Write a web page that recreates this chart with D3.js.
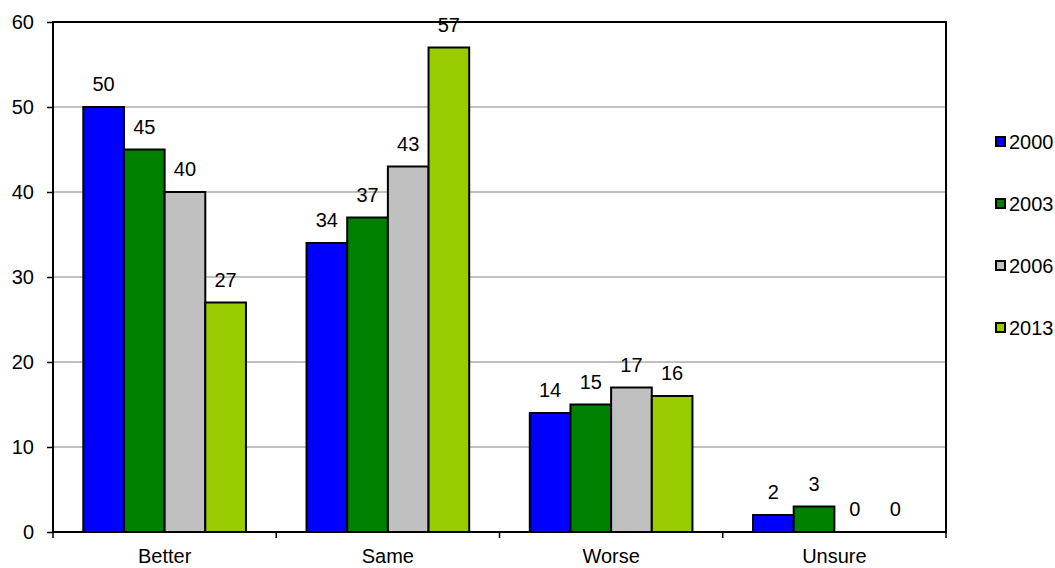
<!DOCTYPE html>
<html>
<head>
<meta charset="utf-8">
<script src="https://d3js.org/d3.v7.min.js"></script>
<style>
body { margin: 0; background: #fff; }
svg { display: block; }
</style>
</head>
<body>
<div></div>
<script>
const width = 1055, height = 568

// data
const categories = ["Better", "Same", "Worse", "Unsure"]
const years = ["2000", "2003", "2006", "2013"]
const v2000 = [50, 34, 14, 2]
const v2003 = [45, 37, 15, 3]
const v2006 = [40, 43, 17, 0]
const v2013 = [27, 57, 16, 0]
const yTicks = [0, 10, 20, 30, 40, 50, 60]
const colors = ["#0000FF", "#008000", "#C0C0C0", "#99CC00"]

const series = [v2000, v2003, v2006, v2013]
const rows = []
categories.forEach((c, i) => {
	years.forEach((yr, j) => rows.push({cat: c, year: yr, value: series[j][i], color: colors[j]}))
})

const font = "'Liberation Sans', Arial, sans-serif"
const fs = 20

const svg = d3.select("div")
	.append("svg")
	.attr("xmlns", "http://www.w3.org/2000/svg")
	.attr("width", width)
	.attr("height", height)

// plot area
const pLeft = 53, pRight = 946, pTop = 22, pBottom = 532
const x = d3.scaleBand().domain(categories).range([pLeft, pRight])
const xInner = d3.scaleBand().domain(years).range([0, x.bandwidth()]).paddingOuter(0.745).paddingInner(0)
const y = d3.scaleLinear().domain([0, 60]).range([pBottom, pTop])

// gridlines
svg.selectAll().data(yTicks.filter(d => d > 0 && d < 60)).enter().append("line")
	.attr("x1", pLeft).attr("x2", pRight)
	.attr("y1", d => y(d)).attr("y2", d => y(d))
	.attr("stroke", "#c0c0c0")
	.attr("stroke-width", 2)

// bars
svg.selectAll().data(rows).enter().append("rect")
	.attr("x", d => x(d.cat) + xInner(d.year))
	.attr("y", d => y(d.value))
	.attr("width", xInner.bandwidth())
	.attr("height", d => y(0) - y(d.value))
	.attr("fill", d => d.color)
	.attr("stroke", "#000")
	.attr("stroke-width", d => d.value > 0 ? 2 : 0)

// plot border
svg.append("rect")
	.attr("x", pLeft).attr("y", pTop)
	.attr("width", pRight - pLeft).attr("height", pBottom - pTop)
	.attr("fill", "none")
	.attr("stroke", "#000")
	.attr("stroke-width", 2)

// value labels
svg.selectAll().data(rows).enter().append("text")
	.attr("x", d => x(d.cat) + xInner(d.year) + xInner.bandwidth() / 2)
	.attr("y", d => y(d.value) - 16)
	.attr("text-anchor", "middle")
	.attr("font-family", font)
	.attr("font-size", fs)
	.attr("fill", "#000")
	.text(d => d.value)

// y axis
const yAxis = svg.append("g")
	.attr("transform", `translate(${pLeft},0)`)
	.call(d3.axisLeft(y).tickValues(yTicks).tickSize(6).tickPadding(13))
yAxis.select(".domain").remove()
yAxis.selectAll(".tick line").attr("stroke", "#000").attr("stroke-width", 1.5)
yAxis.selectAll(".tick text").attr("font-family", font).attr("font-size", fs).attr("fill", "#000")

// x axis: ticks at category boundaries
const bounds = categories.map(c => x(c)).concat([pRight])
svg.selectAll().data(bounds).enter().append("line")
	.attr("x1", d => d).attr("x2", d => d)
	.attr("y1", pBottom).attr("y2", pBottom + 6)
	.attr("stroke", "#000")
	.attr("stroke-width", 1.5)
svg.selectAll().data(categories).enter().append("text")
	.attr("x", d => x(d) + x.bandwidth() / 2)
	.attr("y", 563)
	.attr("text-anchor", "middle")
	.attr("font-family", font)
	.attr("font-size", fs)
	.attr("fill", "#000")
	.text(d => d)

// legend
const ly = d3.scalePoint().domain(years).range([142, 328])
const legend = svg.selectAll().data(years).enter().append("g")
	.attr("transform", d => `translate(996,${ly(d)})`)
legend.append("rect")
	.attr("x", 0).attr("y", -5)
	.attr("width", 9).attr("height", 9)
	.attr("fill", (d, i) => colors[i])
	.attr("stroke", "#000")
	.attr("stroke-width", 2)
legend.append("text")
	.attr("x", 13).attr("y", 7)
	.attr("font-family", font)
	.attr("font-size", fs)
	.attr("fill", "#000")
	.text(d => d)
</script>
</body>
</html>
